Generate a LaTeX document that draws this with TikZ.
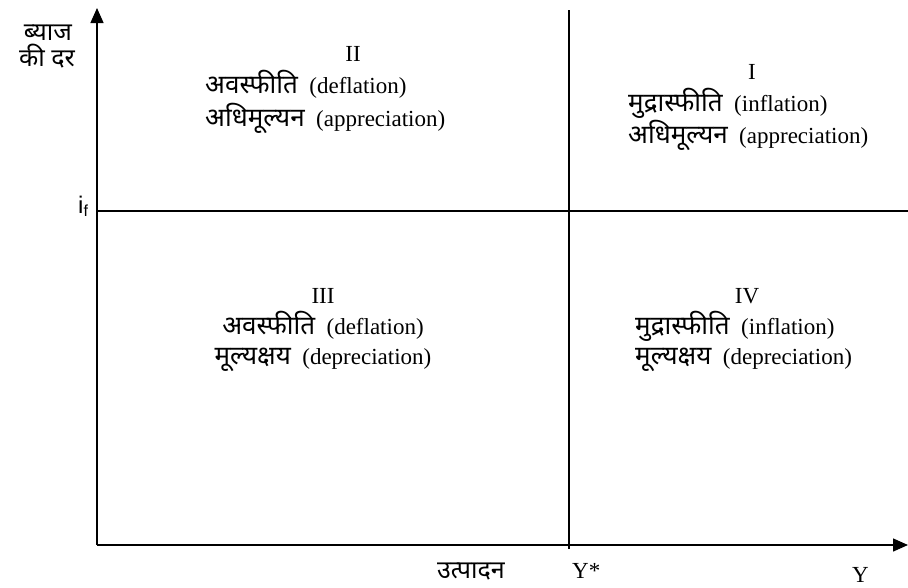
\documentclass[tikz,border=0pt]{standalone}
\usepackage{fontspec}
\setmainfont{Liberation Serif}
\newfontfamily\hin[Script=Devanagari]{Noto Sans}
\newfontfamily\lsans{Liberation Sans}
\usetikzlibrary{arrows.meta}
\newcommand{\hd}[1]{{\hin\fontsize{26}{30}\selectfont #1}}
\begin{document}
\begin{tikzpicture}[x=1pt,y=-1pt,
  ax/.style={line width=1.4pt},
  tip/.style={-{Triangle[width=13pt,length=15pt]}},
  lat/.style={font=\fontsize{23}{27}\selectfont, inner sep=0pt},
  hw/.style={font=\hin\fontsize{25}{29}\selectfont, inner sep=0pt}]
\useasboundingbox (0,0) rectangle (908,587);
% axes
\coordinate (O) at (97,545);
\coordinate (ytop) at (97,8);
\coordinate (xend) at (908,545);
\coordinate (hl) at (97,211);
\coordinate (hr) at (908,211);
\coordinate (vt) at (569,10);
\coordinate (vb) at (569,549);
\draw[ax,tip] (O) -- (ytop);
\draw[ax,tip] (O) -- (xend);
\draw[ax] (hl) -- (hr);
\draw[ax] (vt) -- (vb);
% axis labels
\node[hw, anchor=base east] (yl1) at (72,40) {ब्याज};
\node[hw, anchor=base east] (yl2) at (75,66) {की दर};
\node[inner sep=0pt, anchor=base west, font=\lsans\fontsize{24}{28}\selectfont] (if) at (78,213) {i\raisebox{-0.3ex}{\fontsize{16}{16}\selectfont f}};
\node[hw, anchor=base] (xl) at (471,578) {उत्पादन};
\node[lat, anchor=base west] (ystar) at (572,578) {Y*};
\node[lat, anchor=base west] (yy) at (852,582) {Y};
% quadrant I
\node[lat, anchor=base] (q1) at (752,79) {I};
\node[lat, anchor=base west] (q1a) at (628,111) {\hd{मुद्रास्फीति}\ \ (inflation)};
\node[lat, anchor=base west] (q1b) at (628,143) {\hd{अधिमूल्यन}\ \ (appreciation)};
% quadrant II
\node[lat, anchor=base] (q2) at (353,61) {II};
\node[lat, anchor=base west] (q2a) at (205,93) {\hd{अवस्फीति}\ \ (deflation)};
\node[lat, anchor=base west] (q2b) at (205,126) {\hd{अधिमूल्यन}\ \ (appreciation)};
% quadrant III
\node[lat, anchor=base] (q3) at (323,303) {III};
\node[lat, anchor=base] (q3a) at (323,334) {\hd{अवस्फीति}\ \ (deflation)};
\node[lat, anchor=base] (q3b) at (323,364) {\hd{मूल्यक्षय}\ \ (depreciation)};
% quadrant IV
\node[lat, anchor=base] (q4) at (747,303) {IV};
\node[lat, anchor=base west] (q4a) at (635,334) {\hd{मुद्रास्फीति}\ \ (inflation)};
\node[lat, anchor=base west] (q4b) at (635,364) {\hd{मूल्यक्षय}\ \ (depreciation)};
\end{tikzpicture}
\end{document}
